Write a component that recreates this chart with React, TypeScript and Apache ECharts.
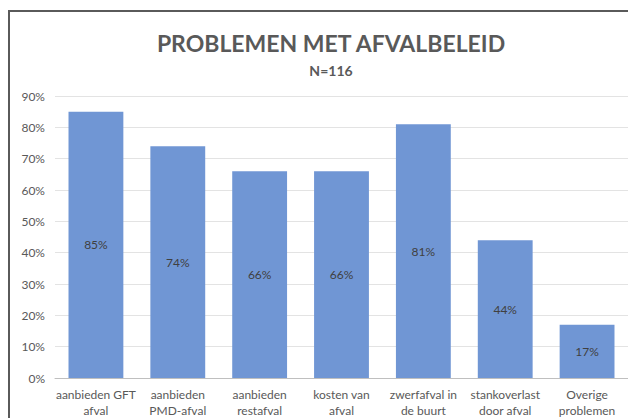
import React, { useEffect, useRef } from "react";
import * as echarts from "echarts";

const categories = [
  "aanbieden GFT\nafval",
  "aanbieden\nPMD-afval",
  "aanbieden\nrestafval",
  "kosten van\nafval",
  "zwerfafval in\nde buurt",
  "stankoverlast\ndoor afval",
  "Overige\nproblemen",
];
const values = [85, 74, 66, 66, 81, 44, 17];
const title = "PROBLEMEN MET AFVALBELEID";
const subtitle = "N=116";

export default function App() {
  const ref = useRef<HTMLDivElement>(null);
  useEffect(() => {
    const chart = echarts.init(ref.current!, null, { renderer: "svg" });
    const font = "Lato, 'Noto Sans', sans-serif";
    chart.setOption({
      animation: false,
      textStyle: { fontFamily: font },
      title: [
        {
          text: title,
          left: 318,
          top: 18,
          textAlign: "center",
          textStyle: { fontSize: 23, fontWeight: "bold", color: "#595959", fontFamily: font },
        },
        {
          text: subtitle,
          left: 318,
          top: 50,
          textAlign: "center",
          textStyle: { fontSize: 14, fontWeight: "bold", color: "#595959", fontFamily: font },
        },
      ],
      graphic: [
        {
          type: "rect",
          shape: { x: 1, y: 3, width: 700, height: 600 },
          style: { fill: "none", stroke: "#5a5a5a", lineWidth: 2 },
          silent: true,
        },
      ],
      grid: { left: 47, right: 8, top: 88, bottom: 39, containLabel: false },
      xAxis: {
        type: "category",
        data: categories,
        axisLine: { lineStyle: { color: "#bfbfbf" } },
        axisTick: { show: false },
        axisLabel: { color: "#595959", fontSize: 12, lineHeight: 16, margin: 8, interval: 0, fontFamily: font },
      },
      yAxis: {
        type: "value",
        min: 0,
        max: 90,
        interval: 10,
        axisLine: { show: false },
        axisTick: { show: false },
        axisLabel: { formatter: "{value}%", color: "#595959", fontSize: 12, margin: 10, fontFamily: font },
        splitLine: { lineStyle: { color: "#e3e3e3" } },
      },
      series: [
        {
          type: "bar",
          data: values,
          barCategoryGap: "33%",
          itemStyle: { color: "#7096d4" },
          label: {
            show: true,
            position: "inside",
            formatter: "{c}%",
            color: "#404040",
            fontSize: 12,
            fontFamily: font,
          },
        },
      ],
    });
    return () => chart.dispose();
  }, []);
  return <div ref={ref} style={{ width: 628, height: 410 }} />;
}
